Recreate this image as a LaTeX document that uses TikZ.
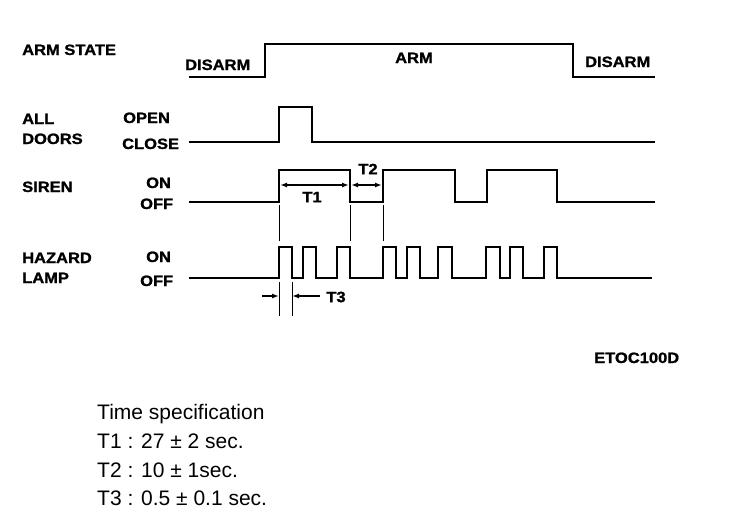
\documentclass[tikz,border=0pt]{standalone}
\usepackage{fontspec}
\setmainfont{Liberation Sans}
\newfontfamily\lblfont[FakeStretch=1.1, FakeBold=1.2]{Liberation Sans}
\usetikzlibrary{arrows.meta}

\tikzset{
  lbl/.style={inner sep=0pt, anchor=base west, font=\lblfont\bfseries\fontsize{15}{17}\selectfont},
  spec/.style={inner sep=0pt, anchor=base west, font=\fontsize{21}{25}\selectfont},
  wave/.style={line width=2.4pt, line join=miter},
  guide/.style={line width=0.7pt},
  dim/.style={line width=1.4pt, {Latex[length=7pt,width=5pt]}-{Latex[length=7pt,width=5pt]}},
  dimin/.style={line width=1.4pt, -{Latex[length=7pt,width=5pt]}}
}

\begin{document}
\begin{tikzpicture}[x=1pt, y=-1pt]
      \path[fill=white, use as bounding box] (0,0) rectangle (752,528);

      % row labels
      \node[lbl] (armstate) at (22,55) {ARM STATE};
      \node[lbl] (disarmL) at (185,70) {DISARM};
      \node[lbl] (arm) at (395,63) {ARM};
      \node[lbl] (disarmR) at (585,67) {DISARM};
      \node[lbl] (all) at (22,124) {ALL};
      \node[lbl] (doors) at (22,144) {DOORS};
      \node[lbl] (open) at (123,123) {OPEN};
      \node[lbl] (close) at (122,149) {CLOSE};
      \node[lbl] (siren) at (22,192) {SIREN};
      \node[lbl] (sirenOn) at (146,188) {ON};
      \node[lbl] (sirenOff) at (140,209) {OFF};
      \node[lbl] (hazard) at (22,263) {HAZARD};
      \node[lbl] (lamp) at (22,283) {LAMP};
      \node[lbl] (lampOn) at (146,262) {ON};
      \node[lbl] (lampOff) at (140,286) {OFF};
      \node[lbl] (code) at (594,363) {ETOC100D};

      % signals
      \draw[wave] (189,77) -- (265,77) -- (265,44) -- (573,44) -- (573,77) -- (655,77);
      \draw[wave] (189,142) -- (279,142) -- (279,107) -- (312,107) -- (312,142) -- (655,142);
      \draw[wave] (189,202) -- (279,202) -- (279,170) -- (350,170) -- (350,202) -- (383,202) -- (383,170)
        -- (455,170) -- (455,202) -- (487,202) -- (487,170) -- (557,170) -- (557,202) -- (655,202);
      \draw[wave] (189,278) foreach \a/\b in {279/292,303/316,337/350,383/396,407/420,438/452,486/500,510/523,544/557}
        { -- (\a,278) -- (\a,247) -- (\b,247) -- (\b,278) } -- (652,278);

      % timing marks
      \foreach \x in {279,350,383}
        \draw[guide] (\x,205) -- (\x,241);
      \draw[guide] (279,282) -- (279,316);
      \draw[guide] (292,282) -- (292,316);

      \coordinate (t1start) at (280,185);
      \coordinate (t1end) at (349,185);
      \coordinate (t2start) at (351,185);
      \coordinate (t2end) at (382,185);
      \coordinate (t3left) at (262,296);
      \coordinate (t3start) at (279,296);
      \coordinate (t3right) at (320,296);
      \coordinate (t3end) at (292,296);

      \draw[dim] (t1start) to (t1end);
      \draw[dim] (t2start) to (t2end);
      \draw[dimin] (t3left) to (t3start);
      \draw[dimin] (t3right) to (t3end);
      \node[lbl, anchor=center] (t1) at (312,197) {T1};
      \node[lbl, anchor=center] (t2) at (368,169) {T2};
      \node[lbl, anchor=center] (t3) at (336,297) {T3};

      % specification
      \node[spec] (spechead) at (97,419) {Time specification};
      \node[spec] (spec1) at (97,448) {T1 : 27 ± 2 sec.};
      \node[spec] (spec2) at (97,477) {T2 : 10 ± 1sec.};
      \node[spec] (spec3) at (97,505) {T3 : 0.5 ± 0.1 sec.};
    \end{tikzpicture}
\end{document}
